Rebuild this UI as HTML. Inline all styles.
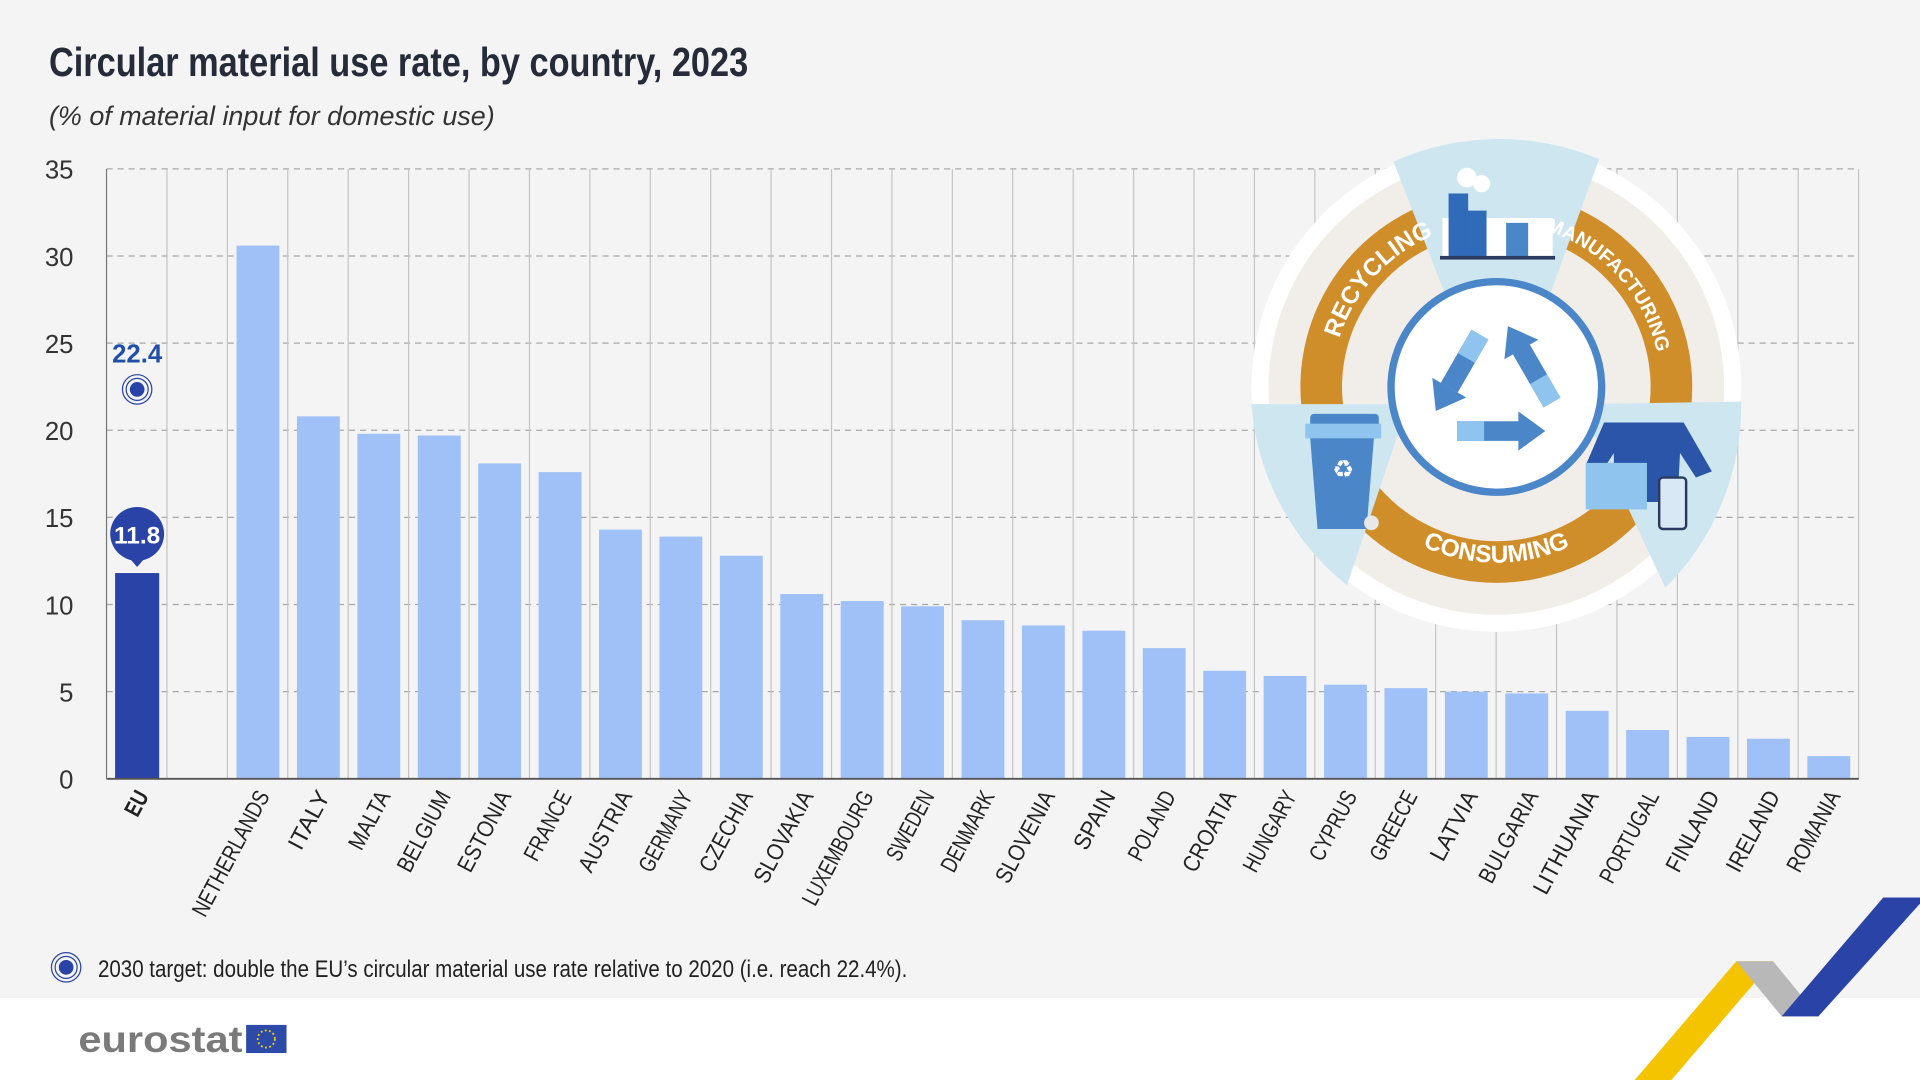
<!DOCTYPE html>
<html><head><meta charset="utf-8"><style>html,body{margin:0;padding:0;background:#f4f4f4}svg{display:block}text{font-family:"Liberation Sans",sans-serif}</style></head>
<body>
<svg id="s" width="1920" height="1080" viewBox="0 0 1568 882" xmlns="http://www.w3.org/2000/svg">
<rect width="1568" height="882" fill="#f4f4f4"/>
<rect y="815" width="1568" height="67" fill="#ffffff"/>
<text x="40" y="62" font-size="33" font-weight="bold" fill="#262b3a" textLength="571" lengthAdjust="spacingAndGlyphs">Circular material use rate, by country, 2023</text>
<text x="40" y="102" font-size="22" font-style="italic" fill="#333" textLength="364" lengthAdjust="spacingAndGlyphs">(% of material input for domestic use)</text>
<g id="grid"></g>
<g id="ill">
<circle cx="1222" cy="316" r="200" fill="#ffffff"/>
<circle cx="1222" cy="316" r="186" fill="#f1eeea"/>
<circle cx="1222" cy="316" r="160" fill="#d08e2b"/>
<circle cx="1222" cy="316" r="126" fill="#f1eeea"/>
<path d="M1180 240 L1138 132 A210 210 0 0 1 1306 130 L1266 240 Z" fill="#cde6f0"/>
<path d="M1290 330 L1422 328 A210 210 0 0 1 1360 480 Z" fill="#cde6f0"/>
<path d="M1150 330 L1022 330 A210 210 0 0 0 1100 478 Z" fill="#cde6f0"/>
<defs>
<path id="a1" d="M1090 292 A134 134 0 0 1 1186 187"/>
<path id="a2" d="M1258 187 A134 134 0 0 1 1354 292"/>
<path id="a3" d="M1150 440 A143 143 0 0 0 1294 440"/>
</defs>
<text font-size="20" font-weight="bold" fill="#fff"><textPath href="#a1" startOffset="50%" text-anchor="middle">RECYCLING</textPath></text>
<text font-size="16" font-weight="bold" fill="#fff"><textPath href="#a2" startOffset="50%" text-anchor="middle">MANUFACTURING</textPath></text>
<text font-size="20" font-weight="bold" fill="#fff"><textPath href="#a3" startOffset="50%" text-anchor="middle">CONSUMING</textPath></text>
<circle cx="1222" cy="316" r="86" fill="#fff" stroke="#4a86c8" stroke-width="6"/>
<g transform="translate(1222 318)">
<g id="arw"><path d="M-32 26 L18 26 L18 42 L-32 42 Z M18 18 L40 34 L18 50 Z" fill="#4a86c8"/><path d="M-32 26 L-10 26 L-10 42 L-32 42 Z" fill="#8ec4ee"/></g>
<use href="#arw" transform="rotate(120)"/>
<use href="#arw" transform="rotate(240)"/>
</g>
<g>
<rect x="1178" y="178" width="90" height="32" fill="#ffffff"/>
<rect x="1183" y="158" width="16" height="52" fill="#2f6bb8"/>
<rect x="1196" y="172" width="18" height="38" fill="#2f6bb8"/>
<rect x="1230" y="182" width="18" height="28" fill="#4a86c8"/>
<rect x="1176" y="209" width="94" height="3" fill="#2a3a60"/>
<circle cx="1198" cy="145" r="8" fill="#fff"/><circle cx="1210" cy="150" r="7" fill="#fff"/>
<rect x="1070" y="338" width="56" height="20" rx="3" fill="#4a86c8"/>
<rect x="1066" y="346" width="62" height="12" fill="#8ec4ee"/>
<path d="M1070 358 L1122 358 L1116 432 L1076 432 Z" fill="#4a86c8"/>
<text x="1097" y="390" font-size="20" fill="#fff" text-anchor="middle">♻</text>
<circle cx="1120" cy="427" r="6" fill="#e8e8e8"/>
<path d="M1310 345 L1375 345 L1398 385 L1385 390 L1372 370 L1370 410 L1318 410 L1318 370 L1305 390 L1295 380 Z" fill="#2a55a8"/>
<rect x="1295" y="378" width="50" height="38" fill="#8ec4ee"/>
<rect x="1355" y="390" width="22" height="42" rx="3" fill="#d8e8f4" stroke="#2a3a60" stroke-width="2"/>
</g>
</g>
<g id="bars"></g>
<rect x="94" y="468" width="36" height="168" fill="#2a43a6"/>
<circle cx="112" cy="436" r="22" fill="#2a43a6"/>
<path d="M105 455 L112 463 L119 455 Z" fill="#2a43a6"/>
<text x="112" y="444" font-size="20" font-weight="bold" fill="#fff" text-anchor="middle">11.8</text>
<text x="112" y="296" font-size="21" font-weight="bold" fill="#1f4fa8" text-anchor="middle">22.4</text>
<circle cx="112" cy="318" r="12" fill="none" stroke="#2a43a6" stroke-width="1"/>
<circle cx="112" cy="318" r="9" fill="none" stroke="#2a43a6" stroke-width="1"/>
<circle cx="112" cy="318" r="6" fill="#2a43a6"/>
<line x1="87" y1="636" x2="1518" y2="636" stroke="#555" stroke-width="1.5"/>
<line x1="87" y1="138" x2="87" y2="636" stroke="#777" stroke-width="1"/>
<circle cx="54" cy="790" r="12" fill="none" stroke="#2a43a6" stroke-width="1"/>
<circle cx="54" cy="790" r="9" fill="none" stroke="#2a43a6" stroke-width="1"/>
<circle cx="54" cy="790" r="6" fill="#2a43a6"/>
<text x="80" y="798" font-size="20" fill="#222" textLength="661" lengthAdjust="spacingAndGlyphs">2030 target: double the EU’s circular material use rate relative to 2020 (i.e. reach 22.4%).</text>
<text x="64" y="859" font-size="30" font-weight="bold" fill="#7a7a7a" textLength="134" lengthAdjust="spacingAndGlyphs">eurostat</text>
<rect x="201" y="837" width="33" height="23" fill="#2e4aa8"/>
<circle cx="217.5" cy="848.5" r="7" fill="none" stroke="#f5d000" stroke-width="1.5" stroke-dasharray="1.5 2"/>
<polygon points="1335,882 1365,882 1448,785 1418,785" fill="#f5c400"/>
<polygon points="1418,785 1448,785 1485,830 1455,830" fill="#b8b8b8"/>
<polygon points="1455,830 1485,830 1568,738 1568,733 1538,733" fill="#2a43a6"/>
</svg>
<script>
const NS="http://www.w3.org/2000/svg",g=document.getElementById('grid'),b=document.getElementById('bars');
function el(p,t,a,txt){const e=document.createElementNS(NS,t);for(const k in a)e.setAttribute(k,a[k]);if(txt!=null)e.textContent=txt;p.appendChild(e);return e;}
const y0=636,k=14.23,cw=49.34;
for(let v=0;v<=35;v+=5){const y=y0-v*k;
 if(v>0)el(g,'line',{x1:87,x2:1518,y1:y,y2:y,stroke:'#a8a8a8','stroke-dasharray':'5 4','stroke-width':1});
 el(g,'text',{x:60,y:y+8,'font-size':21,fill:'#333','text-anchor':'end'},String(v));}
for(let i=1;i<=29;i++){const x=87+i*cw;el(g,'line',{x1:x,x2:x,y1:138,y2:636,stroke:'#c4c4c4','stroke-width':1});}
const d=[["NETHERLANDS",30.6],["ITALY",20.8],["MALTA",19.8],["BELGIUM",19.7],["ESTONIA",18.1],["FRANCE",17.6],["AUSTRIA",14.3],["GERMANY",13.9],["CZECHIA",12.8],["SLOVAKIA",10.6],["LUXEMBOURG",10.2],["SWEDEN",9.9],["DENMARK",9.1],["SLOVENIA",8.8],["SPAIN",8.5],["POLAND",7.5],["CROATIA",6.2],["HUNGARY",5.9],["CYPRUS",5.4],["GREECE",5.2],["LATVIA",5.0],["BULGARIA",4.9],["LITHUANIA",3.9],["PORTUGAL",2.8],["FINLAND",2.4],["IRELAND",2.3],["ROMANIA",1.3]];
function lab(cx,t,bold){const x=cx+10,y=650;el(b,'text',{x:x,y:y,'font-size':19,fill:'#222','text-anchor':'end','font-weight':bold?'bold':'normal',transform:`rotate(-62 ${x} ${y})`,textLength:t.length*10.3,lengthAdjust:'spacingAndGlyphs'},t);}
d.forEach((r,i)=>{const x=87+(i+2)*cw+7.5,h=r[1]*k;
 el(b,'rect',{x:x,y:y0-h,width:35,height:h,fill:'#a0c1f7'});lab(x+17.5,r[0]);});
lab(112,"EU",true);
document.getElementById('s').insertBefore(document.getElementById('ill'),document.getElementById('bars'));
</script>
</body></html>
